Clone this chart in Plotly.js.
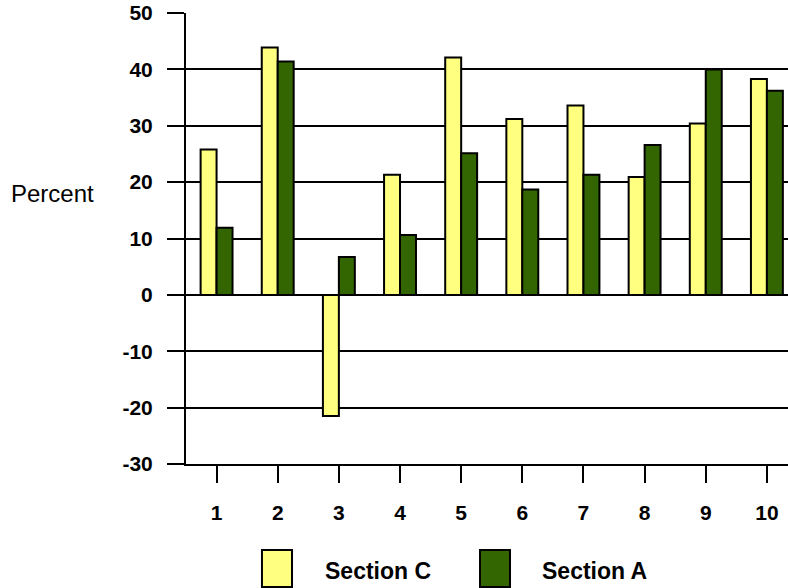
<!DOCTYPE html>
<html>
<head>
<meta charset="utf-8">
<script src="https://cdn.plot.ly/plotly-3.0.1.min.js"></script>
<style>
  html, body { margin: 0; padding: 0; background: #fff; }
  #chart { width: 788px; height: 588px; }
</style>
</head>
<body>
<div id="chart"></div>
<script>
// Categories along the x axis
const categories = [1, 2, 3, 4, 5, 6, 7, 8, 9, 10];
const categoryLabels = ['1', '2', '3', '4', '5', '6', '7', '8', '9', '10'];

// Percent values per section
const sectionC = [25.8, 43.9, -21.5, 21.3, 42.1, 31.2, 33.6, 20.9, 30.4, 38.3];
const sectionA = [11.9, 41.4, 6.7, 10.6, 25.1, 18.7, 21.3, 26.6, 40.0, 36.2];

const seriesNames = ['Section C', 'Section A'];
const seriesColors = ['#FFFF80', '#336600'];

// Y axis ticks
const yTicks = [-30, -20, -10, 0, 10, 20, 30, 40, 50];
const yTickLabels = ['-30', '-20', '-10', '0', '10', '20', '30', '40', '50'];

const tickFont = { family: 'Liberation Sans, Arial, sans-serif', size: 21, color: '#000', weight: 'bold' };

const traces = [sectionC, sectionA].map((vals, i) => ({
  type: 'bar',
  name: seriesNames[i],
  x: categories,
  y: vals,
  marker: { color: seriesColors[i], line: { color: '#000', width: 2 } },
  showlegend: false,
  hoverinfo: 'x+y+name'
}));

// Legend drawn as large swatches with labels beneath the plot
const legendBoxes = [
  { x0: 0.1262, x1: 0.1761 },
  { x0: 0.4884, x1: 0.5382 }
];
const legendTextX = [0.2276, 0.588];

const shapes = legendBoxes.map((b, i) => ({
  type: 'rect', xref: 'paper', yref: 'paper',
  x0: b.x0, x1: b.x1, y0: -0.2727, y1: -0.1907,
  fillcolor: seriesColors[i], line: { color: '#000', width: 2 }
}));

const annotations = seriesNames.map((name, i) => ({
  text: name, xref: 'paper', yref: 'paper',
  x: legendTextX[i], y: -0.2373, xanchor: 'left', yanchor: 'middle',
  showarrow: false,
  font: { family: 'Liberation Sans, Arial, sans-serif', size: 23, color: '#000', weight: 'bold' }
}));

annotations.push({
  text: 'Percent', xref: 'paper', yref: 'paper',
  x: -0.221, y: 0.6, xanchor: 'center', yanchor: 'middle',
  showarrow: false,
  font: { family: 'Liberation Sans, Arial, sans-serif', size: 24, color: '#000' }
});

const layout = {
  width: 788,
  height: 588,
  margin: { l: 186, r: 0, t: 13, b: 124, pad: 0 },
  paper_bgcolor: '#fff',
  plot_bgcolor: '#fff',
  barmode: 'group',
  bargap: 0.478,
  bargroupgap: 0,
  xaxis: {
    range: [0.5, 10.345],
    tickvals: categories,
    ticktext: categoryLabels,
    ticks: 'outside',
    ticklen: 17,
    tickwidth: 2,
    tickcolor: '#000',
    ticklabelstandoff: 12,
    showgrid: false,
    zeroline: false,
    showline: true,
    linecolor: '#000',
    linewidth: 2,
    tickfont: tickFont,
    fixedrange: true
  },
  yaxis: {
    range: [-30, 50],
    tickvals: yTicks,
    ticktext: yTickLabels,
    ticks: 'outside',
    ticklen: 17,
    tickwidth: 2,
    tickcolor: '#000',
    ticklabelstandoff: 10,
    showgrid: true,
    gridcolor: '#000',
    gridwidth: 2,
    zeroline: true,
    zerolinecolor: '#000',
    zerolinewidth: 2,
    showline: true,
    linecolor: '#000',
    linewidth: 2,
    tickfont: tickFont,
    fixedrange: true
  },
  shapes: shapes,
  annotations: annotations
};

Plotly.newPlot('chart', traces, layout, { displayModeBar: false, staticPlot: true });
</script>
</body>
</html>
